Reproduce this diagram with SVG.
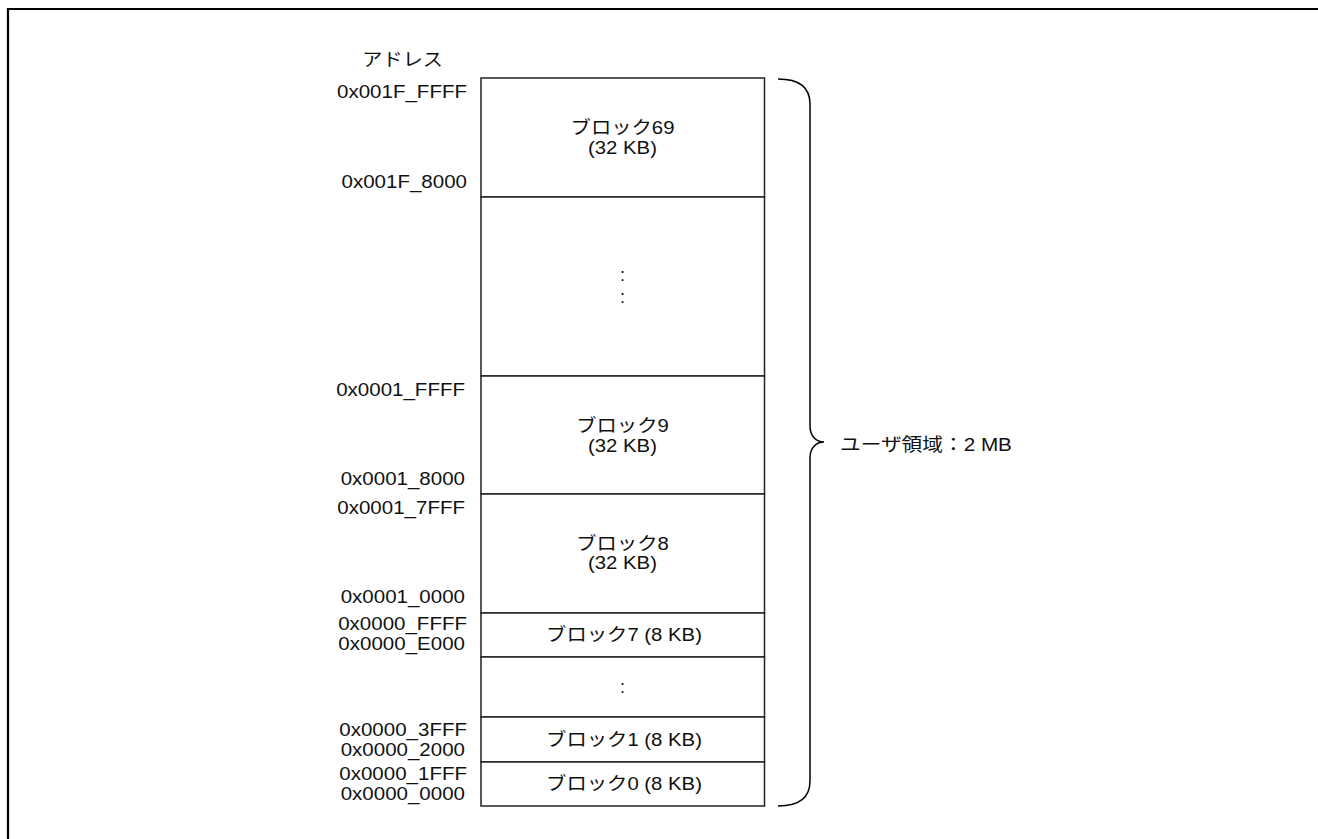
<svg xmlns="http://www.w3.org/2000/svg" width="1318" height="839" viewBox="0 0 1318 839">
  <style>
    .blk { fill: #ffffff; stroke: #222222; stroke-width: 1.5; }
    .t { font-family: "Liberation Sans", "Noto Sans CJK JP", sans-serif; font-size: 18px; fill: #111111; }
    .mid { text-anchor: middle; }
    .end { text-anchor: end; }
    .line { fill: none; stroke: #000000; }
  </style>
  <rect x="0" y="0" width="1318" height="839" fill="#ffffff"/>
  <path class="line" d="M8,839 L8,9 L1318,9" stroke-width="2.2"/>

  <g id="address-labels">
    <text class="t end" transform="translate(443 66) scale(1.12 1)">アドレス</text>
    <text class="t end" transform="translate(467 98) scale(1.14 1)">0x001F_FFFF</text>
    <text class="t end" transform="translate(467 188) scale(1.14 1)">0x001F_8000</text>
    <text class="t end" transform="translate(465 396) scale(1.14 1)">0x0001_FFFF</text>
    <text class="t end" transform="translate(465 485) scale(1.14 1)">0x0001_8000</text>
    <text class="t end" transform="translate(465 514) scale(1.14 1)">0x0001_7FFF</text>
    <text class="t end" transform="translate(465 603) scale(1.14 1)">0x0001_0000</text>
    <text class="t end" transform="translate(467 630) scale(1.14 1)">0x0000_FFFF</text>
    <text class="t end" transform="translate(465 650) scale(1.14 1)">0x0000_E000</text>
    <text class="t end" transform="translate(467 736) scale(1.14 1)">0x0000_3FFF</text>
    <text class="t end" transform="translate(465 756) scale(1.14 1)">0x0000_2000</text>
    <text class="t end" transform="translate(467 780) scale(1.14 1)">0x0000_1FFF</text>
    <text class="t end" transform="translate(465 800) scale(1.14 1)">0x0000_0000</text>
  </g>

  <g id="block69">
    <rect class="blk" x="481" y="78" width="283.5" height="119"/>
    <text class="t mid" transform="translate(622.5 134) scale(1.13 1)">ブロック69</text>
    <text class="t mid" transform="translate(622.5 154) scale(1.13 1)">(32 KB)</text>
  </g>
  <g id="blocks-10-68">
    <rect class="blk" x="481" y="197" width="283.5" height="179"/>
    <text class="t mid" font-size="20" transform="translate(622.5 281)">:</text>
    <text class="t mid" font-size="20" transform="translate(622.5 303)">:</text>
  </g>
  <g id="block9">
    <rect class="blk" x="481" y="376" width="283.5" height="118"/>
    <text class="t mid" transform="translate(622.5 432) scale(1.13 1)">ブロック9</text>
    <text class="t mid" transform="translate(622.5 452) scale(1.13 1)">(32 KB)</text>
  </g>
  <g id="block8">
    <rect class="blk" x="481" y="494" width="283.5" height="119"/>
    <text class="t mid" transform="translate(622.5 550) scale(1.13 1)">ブロック8</text>
    <text class="t mid" transform="translate(622.5 569) scale(1.13 1)">(32 KB)</text>
  </g>
  <g id="block7">
    <rect class="blk" x="481" y="613" width="283.5" height="44"/>
    <text class="t mid" transform="translate(624 641) scale(1.13 1)">ブロック7 (8 KB)</text>
  </g>
  <g id="blocks-2-6">
    <rect class="blk" x="481" y="657" width="283.5" height="60"/>
    <text class="t mid" font-size="20" transform="translate(622.5 693)">:</text>
  </g>
  <g id="block1">
    <rect class="blk" x="481" y="717" width="283.5" height="45"/>
    <text class="t mid" transform="translate(624 746) scale(1.13 1)">ブロック1 (8 KB)</text>
  </g>
  <g id="block0">
    <rect class="blk" x="481" y="762" width="283.5" height="44"/>
    <text class="t mid" transform="translate(624 790) scale(1.13 1)">ブロック0 (8 KB)</text>
  </g>

  <g id="connectors">
    <path class="line" stroke-width="1.5" d="M778,79 C798,79 810,86 810,104 L810,426 C810,436 816,442 824,442 C816,442 810,448 810,458 L810,781 C810,799 798,806 778,806"/>
  </g>
  <g id="user-area-label">
    <text class="t" transform="translate(840 451) scale(1.15 1)">ユーザ領域：2 MB</text>
  </g>
</svg>
